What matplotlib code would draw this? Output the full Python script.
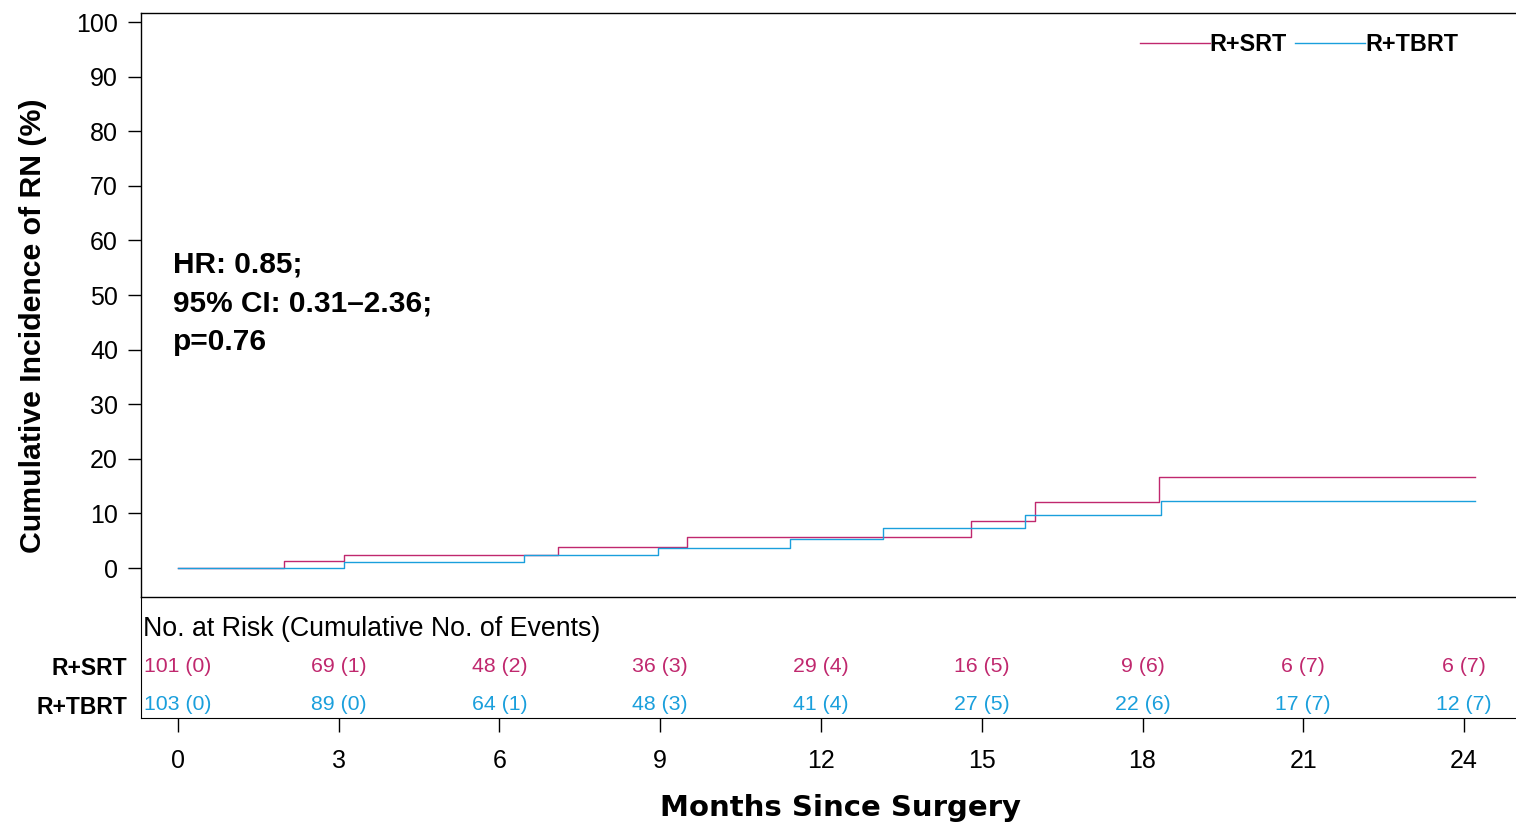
import matplotlib
matplotlib.use("Agg")
import matplotlib.pyplot as plt
from matplotlib import font_manager

# step curves (months, cumulative incidence %)
months_srt = [0, 1.98, 3.09, 7.1, 9.5, 14.79, 16.0, 18.31, 24.2]
cuminc_srt = [0, 1.2, 2.4, 3.9, 5.7, 8.7, 12.0, 16.6, 16.6]
months_tbrt = [0, 3.09, 6.45, 8.95, 11.43, 13.15, 15.81, 18.34, 24.2]
cuminc_tbrt = [0, 1.1, 2.3, 3.7, 5.3, 7.3, 9.65, 12.3, 12.3]

# number at risk table
risk_months = [0, 3, 6, 9, 12, 15, 18, 21, 24]
srt_risk = [101, 69, 48, 36, 29, 16, 9, 6, 6]
srt_events = [0, 1, 2, 3, 4, 5, 6, 7, 7]
tbrt_risk = [103, 89, 64, 48, 41, 27, 22, 17, 12]
tbrt_events = [0, 0, 1, 3, 4, 5, 6, 7, 7]

groups = ["R+SRT", "R+TBRT"]
c_srt = "#c0286e"
c_tbrt = "#1a9fdc"

plt.rcParams['font.family'] = ['Liberation Sans', 'DejaVu Sans']

def narrow():
    try:
        font_manager.findfont("Liberation Sans Narrow", fallback_to_default=False)
        return "Liberation Sans Narrow"
    except Exception:
        return "Liberation Sans"

fig = plt.figure(figsize=(15.16, 8.25), dpi=100)
W, H = 1516., 825.
ax = fig.add_axes([141/W, 1-597/H, (1516-141)/W, (597-13)/H])
tab = fig.add_axes([141/W, 1-718/H, (1516-141)/W, (718-597)/H], sharex=ax)
tab.patch.set_visible(False)

ax.plot(months_srt, cuminc_srt, drawstyle='steps-post', color=c_srt, lw=1.0, label=groups[0])
ax.plot(months_tbrt, cuminc_tbrt, drawstyle='steps-post', color=c_tbrt, lw=1.0, label=groups[1])

ax.set_xlim(-0.69, 24.97)
ax.set_ylim(-5.31, 101.65)
ax.set_yticks(range(0, 101, 10))
ax.tick_params(axis='y', direction='out', length=9.5, width=1, labelsize=18, pad=7)
ax.tick_params(axis='x', bottom=False, labelbottom=False)
ax.spines['right'].set_visible(False)
for s in ['left', 'top', 'bottom']:
    ax.spines[s].set_linewidth(1)

ax.text(-0.09, 58.2, "HR: 0.85;\n95% CI: 0.31\u20132.36;\np=0.76",
        fontsize=21.5, fontweight='bold', va='top', ha='left', linespacing=1.5)

leg = ax.legend(loc='upper right', bbox_to_anchor=(0.958, 0.965), ncol=2, frameon=False,
                handlelength=3.0, handletextpad=0.0, columnspacing=0.35,
                borderaxespad=0, borderpad=0, prop={'weight': 'bold', 'size': 16.8})

# risk table
tab.set_ylim(0, 1)
tab.spines['right'].set_visible(False)
tab.spines['top'].set_visible(False)
tab.set_yticks([(718-666)/121, (718-705)/121])
tab.set_yticklabels(groups, fontweight='bold', fontsize=16.5)
tab.tick_params(axis='y', length=0, pad=10)
tab.set_xticks(risk_months)
tab.tick_params(axis='x', direction='out', length=10, width=1, labelsize=18, pad=12.5)
tab.text((143-141)/1375, (718-629)/121, "No. at Risk (Cumulative No. of Events)",
         transform=tab.transAxes, fontsize=19.3, va='center', ha='left', family=narrow())
for m, r, e in zip(risk_months, srt_risk, srt_events):
    tab.text(m, (718-666)/121, f"{r} ({e})", color=c_srt, fontsize=15.3, ha='center', va='center')
for m, r, e in zip(risk_months, tbrt_risk, tbrt_events):
    tab.text(m, (718-705)/121, f"{r} ({e})", color=c_tbrt, fontsize=15.3, ha='center', va='center')

fig.text(840/W, 1-808/H, "Months Since Surgery", fontsize=21, fontweight='bold',
         family='DejaVu Sans', ha='center', va='center')
fig.text(33/W, 1-326/H, "Cumulative Incidence of RN (%)", fontsize=21.8, fontweight='bold',
         rotation=90, ha='center', va='center')

fig.savefig("out.png", dpi=100)
